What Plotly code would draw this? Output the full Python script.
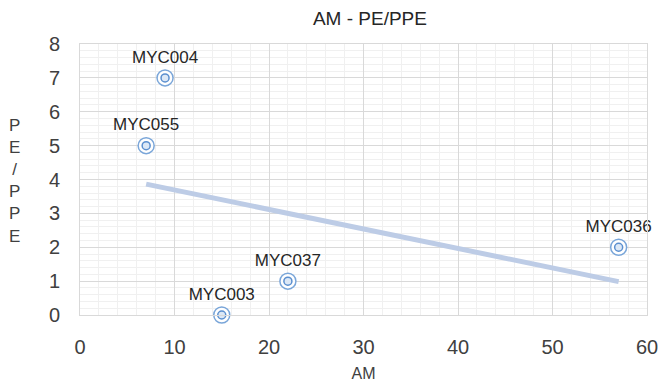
import numpy as np
import plotly.graph_objects as go

names = ["MYC004", "MYC055", "MYC036", "MYC037", "MYC003"]
am = [9, 7, 57, 22, 15]
pe_ppe = [7, 5, 2, 1, 0]
x_ticks = [0, 10, 20, 30, 40, 50, 60]
y_ticks = [0, 1, 2, 3, 4, 5, 6, 7, 8]

slope, intercept = np.polyfit(am, pe_ppe, 1)
tx = np.array([min(am), max(am)])
ty = slope * tx + intercept

fig = go.Figure()
fig.add_trace(go.Scatter(x=tx, y=ty, mode="lines",
                         line=dict(color="#BDCCE6", width=5), hoverinfo="skip"))
fig.add_trace(go.Scatter(x=am, y=pe_ppe, mode="markers+text", text=names,
                         textposition="top center", cliponaxis=False,
                         textfont=dict(family="Liberation Sans, Arial", size=17, color="#262626"),
                         marker=dict(symbol="circle", size=16, color="rgba(255,255,255,0.9)",
                                     line=dict(color="#7AA6D9", width=1.5))))
fig.add_trace(go.Scatter(x=am, y=pe_ppe, mode="markers", cliponaxis=False,
                         marker=dict(symbol="circle", size=8, color="rgba(220,232,246,1)",
                                     line=dict(color="#5B8FCF", width=1.5))))

fig.update_layout(
    width=663, height=382,
    margin=dict(l=80, r=16, t=44, b=67),
    paper_bgcolor="white", plot_bgcolor="white",
    showlegend=False,
    font=dict(family="Liberation Sans, Arial", color="#404040"),
    title=dict(text="AM - PE/PPE", x=0.558, xanchor="center", y=0.953, yanchor="middle",
               font=dict(size=19, color="#262626")),
    xaxis=dict(range=[0, 60], tickvals=x_ticks, tickfont=dict(size=20, color="#404040"),
               showgrid=True, gridcolor="#D9D9D9", gridwidth=1, automargin=False,
               minor=dict(dtick=2, showgrid=True, gridcolor="#F0F0F0"),
               showline=True, linecolor="#D9D9D9", mirror=True, zeroline=False,
               ticks="", ticklen=0, ticklabelstandoff=14,
               title=dict(text="AM", font=dict(size=16, color="#404040"), standoff=10)),
    yaxis=dict(range=[0, 8], tickvals=y_ticks, tickfont=dict(size=20, color="#404040"),
               showgrid=True, gridcolor="#D9D9D9", gridwidth=1, automargin=False,
               minor=dict(dtick=0.2, showgrid=True, gridcolor="#F0F0F0"),
               showline=True, linecolor="#D9D9D9", mirror=True, zeroline=False,
               ticks="", ticklen=0, ticklabelstandoff=15),
)
fig.add_annotation(text="P<br>E<br>/<br>P<br>P<br>E", xref="paper", yref="paper",
                   x=-0.116, y=0.495, xanchor="center", yanchor="middle", showarrow=False,
                   font=dict(size=17, color="#404040"), align="center")
fig.write_html("out.html")
